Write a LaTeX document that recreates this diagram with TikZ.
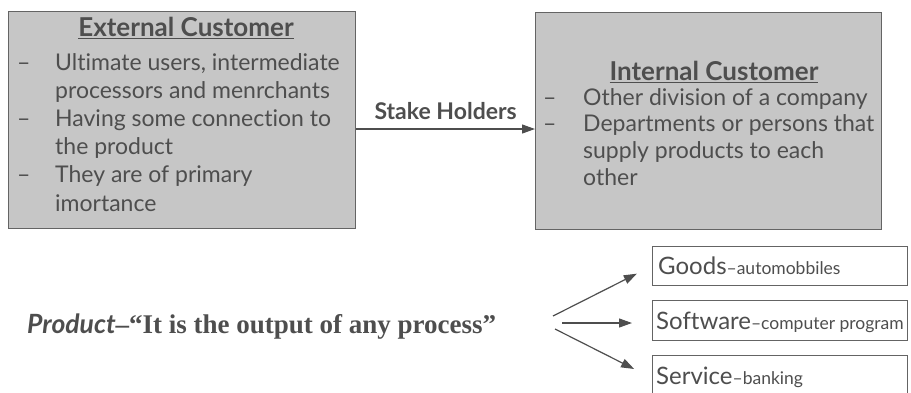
\documentclass[tikz,border=0pt]{standalone}
\usepackage{fontspec}
\setmainfont[Ligatures={NoCommon}]{Lato}
\newfontfamily\quotefont{Liberation Serif}
\usetikzlibrary{arrows.meta,calc}
\definecolor{boxgray}{RGB}{198,198,198}
\definecolor{ink}{RGB}{78,78,78}
\definecolor{edge}{RGB}{100,100,100}
\begin{document}
\begin{tikzpicture}[x=1pt,y=-1pt,
  panel/.style={draw=edge, line width=1.3pt, fill=boxgray, rectangle, inner sep=0pt, anchor=north west},
  kind/.style={draw=edge, line width=1pt, fill=white, rectangle, inner sep=0pt, anchor=north west},
  heading/.style={text=ink, font=\fontsize{26}{30}\selectfont\bfseries, inner sep=0pt},
  body/.style={text=ink, inner sep=0pt, anchor=base west},
  link/.style={draw=ink, line width=1.2pt, -{Triangle[length=13pt,width=9pt]}}]
\useasboundingbox (0,0) rectangle (911,392);

% the two customer panels
\node[panel, minimum width=347pt, minimum height=217pt] (ext) at (8,11) {};
\node[panel, minimum width=346pt, minimum height=217pt] (int) at (535,12) {};

\node[heading] (exttitle) at (186,28) {\underline{External Customer}};
\node[body] (extlist) at (17,70) {\fontsize{23}{28.2}\selectfont
  \begin{tabular}[t]{@{}p{38pt}@{}l@{}}
  -- & Ultimate users, intermediate\\
     & processors and menrchants\\
  -- & Having some connection to\\
     & the product\\
  -- & They are of primary\\
     & imortance
  \end{tabular}};

\node[heading] (inttitle) at (714,72) {\underline{Internal Customer}};
\node[body] (intlist) at (543,105) {\fontsize{23}{26.7}\selectfont
  \begin{tabular}[t]{@{}p{40pt}@{}l@{}}
  -- & Other division of a company\\
  -- & Departments or persons that\\
     & supply products to each\\
     & other
  \end{tabular}};

% stakeholder link
\draw[link] (ext.east |- 0,129) -- (int.west |- 0,129)
  node[midway, above=5pt, text=ink, font=\fontsize{23}{26}\selectfont\bfseries] (stake) {Stake Holders};

% product definition
\node[body] (product) at (27,333) {\bfseries
  {\fontsize{26.5}{30}\selectfont\itshape Product}{\fontsize{27}{30}\selectfont\quotefont –“It is the output of any process”}};

% kinds of product
\node[kind, minimum width=255pt, minimum height=39pt] (goods) at (652,246) {};
\node[kind, minimum width=255pt, minimum height=40pt] (soft) at (652,300) {};
\node[kind, minimum width=255pt, minimum height=45pt] (serv) at (652,355) {};

\node[body] (goodstxt) at (658,274) {\fontsize{24}{28}\selectfont Goods\fontsize{17.5}{20}\selectfont--automobbiles};
\node[body] (softtxt) at (656,329) {\fontsize{24}{28}\selectfont Software\fontsize{17.5}{20}\selectfont--computer program};
\node[body] (servtxt) at (656,384) {\fontsize{24}{28}\selectfont Service\fontsize{17.5}{20}\selectfont--banking};

\coordinate (fanA) at (553,316);
\coordinate (fanB) at (562,323);
\coordinate (fanC) at (555,329);
\draw[link, shorten >=17pt] (fanA) -- (goods.west);
\draw[link, shorten >=20pt] (fanB) -- (soft.west |- fanB);
\draw[link, shorten >=20pt] (fanC) -- (serv.west);
\end{tikzpicture}
\end{document}
